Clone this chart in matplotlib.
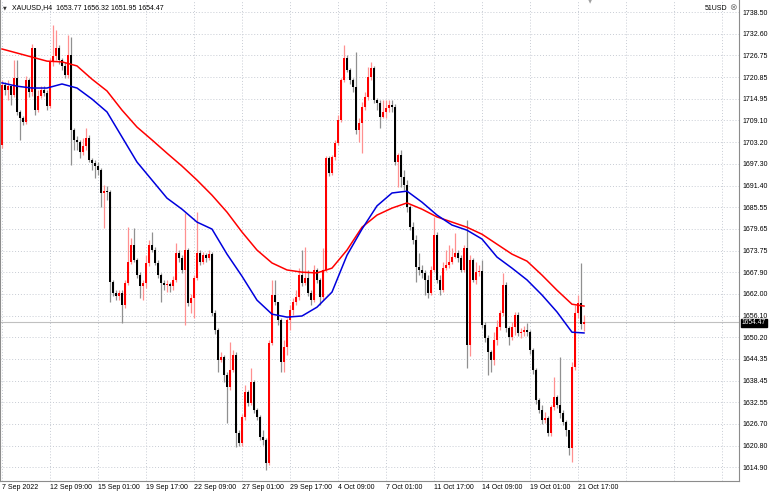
import numpy as np
import matplotlib.pyplot as plt
from matplotlib.transforms import blended_transform_factory

# XAUUSD H4 candles, 7 Sep 2022 .. 21 Oct 2022
first_open = 1702.4
closes = [
    1718.7, 1717.4, 1718.4, 1716.0, 1720.6, 1711.4, 1709.7, 1708.7, 1720.1, 1716.8,
    1728.8, 1711.9, 1715.7, 1717.4, 1716.5, 1713.0, 1725.0, 1726.6, 1728.8, 1725.5,
    1723.9, 1721.4, 1726.9, 1706.5, 1703.8, 1703.2, 1700.5, 1702.1, 1704.3, 1698.3,
    1697.5, 1696.7, 1695.6, 1689.4, 1689.9, 1689.7, 1665.2, 1662.2, 1661.4, 1662.2,
    1659.0, 1664.9, 1670.6, 1675.3, 1671.2, 1667.1, 1664.1, 1664.9, 1670.4, 1675.3,
    1673.9, 1670.4, 1667.1, 1664.9, 1664.4, 1664.7, 1664.1, 1665.8, 1673.1, 1671.7,
    1668.5, 1673.9, 1659.5, 1660.9, 1666.3, 1673.1, 1670.6, 1672.5, 1671.7, 1672.8,
    1656.8, 1652.2, 1644.0, 1644.8, 1640.0, 1636.7, 1641.3, 1645.4, 1624.2, 1621.5,
    1628.5, 1635.3, 1632.3, 1638.0, 1630.4, 1628.5, 1623.1, 1622.3, 1616.1, 1648.6,
    1661.7, 1659.8, 1654.9, 1643.5, 1647.6, 1654.9, 1657.6, 1659.8, 1661.1, 1667.1,
    1664.9, 1666.3, 1662.2, 1660.3, 1668.5, 1665.8, 1661.1, 1668.5, 1698.9, 1694.8,
    1699.2, 1703.0, 1709.2, 1720.1, 1726.0, 1722.8, 1720.1, 1718.2, 1706.5, 1708.4,
    1712.7, 1715.5, 1720.9, 1723.3, 1714.6, 1713.8, 1710.0, 1711.4, 1712.5, 1713.3,
    1712.7, 1697.8, 1699.7, 1693.7, 1691.6, 1685.6, 1680.1, 1676.6, 1669.3, 1668.5,
    1667.7, 1665.8, 1662.2, 1668.5, 1678.0, 1665.8, 1663.0, 1669.0, 1669.8, 1670.6,
    1672.0, 1673.1, 1671.7, 1668.5, 1674.4, 1648.1, 1671.2, 1665.8, 1667.9, 1668.2,
    1653.5, 1650.0, 1646.2, 1644.0, 1649.5, 1653.0, 1656.8, 1664.4, 1652.7, 1650.3,
    1653.0, 1656.3, 1651.4, 1651.6, 1652.2, 1651.6, 1646.7, 1641.3, 1633.2, 1630.4,
    1627.7, 1628.3, 1624.2, 1631.3, 1634.0, 1631.8, 1629.6, 1627.2, 1625.0, 1620.1,
    1642.1, 1656.8, 1659.5, 1653.77, 1654.47,
]
highs = [
    1720.1, 1719.5, 1720.1, 1718.7, 1725.5, 1725.5, 1711.9, 1710.3, 1721.2, 1720.6,
    1729.9, 1728.2, 1717.4, 1718.4, 1718.4, 1717.4, 1726.0, 1735.0, 1733.7, 1729.6,
    1726.0, 1725.0, 1732.3, 1731.8, 1707.0, 1704.9, 1703.8, 1704.3, 1707.0, 1705.1,
    1698.9, 1698.3, 1697.8, 1696.2, 1691.6, 1691.3, 1690.2, 1665.8, 1663.0, 1663.0,
    1663.0, 1665.8, 1680.1, 1677.2, 1679.9, 1671.7, 1667.9, 1665.8, 1672.5, 1676.6,
    1678.8, 1674.7, 1671.2, 1667.7, 1665.8, 1665.8, 1665.2, 1666.8, 1675.8, 1673.9,
    1672.5, 1683.9, 1674.4, 1661.9, 1667.1, 1684.2, 1673.9, 1673.4, 1673.1, 1673.9,
    1673.4, 1657.6, 1652.7, 1646.2, 1645.4, 1640.8, 1648.9, 1646.7, 1646.2, 1625.0,
    1629.4, 1637.2, 1635.9, 1641.9, 1638.6, 1631.0, 1629.1, 1625.0, 1622.8, 1649.5,
    1665.8, 1665.8, 1659.0, 1655.4, 1649.5, 1655.4, 1659.0, 1660.9, 1663.0, 1669.0,
    1673.9, 1674.7, 1668.5, 1663.0, 1669.8, 1669.0, 1666.3, 1674.4, 1699.5, 1699.4,
    1699.7, 1703.8, 1710.6, 1720.6, 1729.6, 1726.9, 1723.3, 1720.6, 1727.7, 1709.8,
    1714.1, 1716.8, 1723.6, 1725.0, 1723.9, 1715.2, 1714.6, 1714.6, 1714.6, 1714.6,
    1714.6, 1713.6, 1700.2, 1701.1, 1695.6, 1692.9, 1686.1, 1681.5, 1678.0, 1673.1,
    1669.8, 1668.5, 1667.1, 1669.6, 1682.9, 1678.8, 1667.1, 1670.6, 1673.9, 1675.3,
    1674.4, 1678.5, 1673.9, 1672.5, 1675.3, 1682.0, 1672.5, 1671.7, 1670.6, 1669.8,
    1671.2, 1654.3, 1650.8, 1646.7, 1651.6, 1654.9, 1657.6, 1667.7, 1665.2, 1653.3,
    1654.3, 1657.1, 1657.1, 1652.7, 1653.3, 1654.1, 1652.2, 1647.3, 1641.9, 1633.7,
    1631.8, 1629.9, 1628.8, 1631.8, 1639.4, 1634.5, 1644.8, 1630.4, 1627.7, 1625.0,
    1643.5, 1659.0, 1661.7, 1670.4, 1656.32,
]
lows = [
    1701.6, 1716.0, 1714.6, 1713.3, 1715.5, 1710.6, 1703.8, 1707.9, 1708.1, 1715.5,
    1715.7, 1710.6, 1711.4, 1715.2, 1715.7, 1711.9, 1712.5, 1723.9, 1725.5, 1724.4,
    1722.8, 1720.6, 1720.6, 1697.0, 1701.1, 1701.1, 1698.9, 1699.7, 1701.1, 1697.8,
    1695.6, 1693.5, 1694.3, 1685.6, 1679.9, 1687.5, 1659.8, 1661.4, 1660.3, 1660.3,
    1654.1, 1658.2, 1664.4, 1670.1, 1670.6, 1666.3, 1660.9, 1660.3, 1663.6, 1669.6,
    1673.4, 1669.8, 1666.3, 1659.8, 1663.0, 1662.5, 1662.5, 1663.0, 1665.2, 1670.6,
    1667.7, 1653.5, 1658.7, 1656.8, 1655.4, 1665.8, 1669.8, 1670.1, 1670.6, 1671.2,
    1656.0, 1651.1, 1640.8, 1643.5, 1638.0, 1626.9, 1635.9, 1640.8, 1620.4, 1620.7,
    1620.7, 1627.7, 1631.5, 1631.8, 1629.6, 1627.7, 1622.3, 1620.9, 1614.1, 1615.5,
    1648.1, 1659.0, 1653.5, 1640.8, 1640.8, 1645.4, 1652.2, 1656.3, 1659.0, 1660.3,
    1664.1, 1664.4, 1661.4, 1659.0, 1659.8, 1664.9, 1659.0, 1660.3, 1667.9, 1694.0,
    1694.3, 1698.3, 1702.4, 1708.7, 1719.5, 1722.2, 1719.0, 1716.8, 1705.4, 1703.2,
    1700.2, 1711.9, 1714.6, 1720.1, 1713.8, 1711.9, 1707.0, 1709.7, 1709.7, 1711.4,
    1711.4, 1697.0, 1691.0, 1691.0, 1690.2, 1684.2, 1679.3, 1675.5, 1665.2, 1667.1,
    1666.3, 1661.7, 1660.9, 1661.7, 1667.9, 1664.9, 1661.7, 1662.5, 1668.5, 1669.0,
    1670.1, 1671.7, 1670.6, 1667.9, 1667.9, 1641.9, 1645.1, 1665.2, 1664.7, 1666.8,
    1652.7, 1648.9, 1640.0, 1640.8, 1642.7, 1648.1, 1652.2, 1656.0, 1651.6, 1648.1,
    1649.5, 1650.8, 1650.5, 1650.0, 1650.5, 1650.5, 1645.7, 1640.2, 1632.1, 1629.6,
    1626.6, 1626.9, 1623.4, 1623.4, 1630.4, 1631.0, 1628.3, 1626.4, 1623.4, 1618.2,
    1616.3, 1641.3, 1655.4, 1652.5, 1651.95,
]

# moving averages, sampled every 5 bars
ma_bars = list(range(0, 191, 5)) + [194]
ma_slow = [
    1728.5, 1727.4, 1726.3, 1725.2, 1725.0, 1723.9, 1720.3, 1717.1, 1711.9, 1707.3,
    1703.8, 1700.2, 1696.7, 1692.9, 1688.8, 1684.2, 1678.8, 1673.9, 1670.4, 1668.5,
    1667.9, 1667.7, 1669.0, 1673.9, 1680.1, 1683.4, 1685.3, 1686.7, 1685.0, 1682.9,
    1681.5, 1680.1, 1678.2, 1675.5, 1672.8, 1670.9, 1667.1, 1663.0, 1659.2, 1658.7,
]
ma_fast = [
    1719.3, 1718.4, 1717.9, 1717.9, 1719.0, 1717.9, 1714.9, 1711.4, 1704.6, 1697.8,
    1692.9, 1688.0, 1685.0, 1681.5, 1679.6, 1672.8, 1666.8, 1660.3, 1656.5, 1655.7,
    1656.0, 1658.4, 1662.5, 1672.5, 1679.6, 1685.9, 1689.4, 1689.9, 1686.9, 1683.4,
    1680.7, 1679.3, 1676.9, 1672.0, 1669.0, 1665.8, 1661.7, 1657.1, 1651.6, 1651.4,
]

price_ticks = [1738.50, 1732.60, 1726.75, 1720.85, 1714.95, 1709.10, 1703.20,
               1697.30, 1691.40, 1685.55, 1679.65, 1673.75, 1667.90, 1662.00,
               1656.10, 1650.20, 1644.35, 1638.45, 1632.55, 1626.70, 1620.80,
               1614.90]
date_labels = ["7 Sep 2022", "12 Sep 09:00", "15 Sep 01:00", "19 Sep 17:00",
               "22 Sep 09:00", "27 Sep 01:00", "29 Sep 17:00", "4 Oct 09:00",
               "7 Oct 01:00", "11 Oct 17:00", "14 Oct 09:00", "19 Oct 01:00",
               "21 Oct 17:00"]
label_step = 16

plt.rcParams['font.family'] = ['Liberation Sans', 'DejaVu Sans']

W, H = 774, 494
fig = plt.figure(figsize=(W / 100, H / 100), dpi=100)
ax = fig.add_axes([0, 1 - 481 / H, 739 / W, 481 / H])

c = np.array(closes)
o = np.concatenate([[first_open], c[:-1]])
hi = np.maximum(np.array(highs), np.maximum(o, c))
lo = np.minimum(np.array(lows), np.minimum(o, c))
x = np.arange(len(c))
up = c >= o

wick_col = np.where(up, '#ff9090', '#909090')
ax.vlines(x, lo, hi, colors=wick_col, lw=0.9, zorder=2)
body_col = np.where(up, '#ff0000', '#000000')
ax.bar(x, np.maximum(np.abs(c - o), 0.3), bottom=np.minimum(o, c),
       width=0.62, color=body_col, lw=0, zorder=3)

ax.plot(ma_bars, ma_slow, color='#ff0000', lw=1.1, zorder=4)
ax.plot(ma_bars, ma_fast, color='#0000dd', lw=1.1, zorder=4)

last = c[-1]
ax.axhline(last, color='#c0c0c0', lw=0.8, zorder=1)

ax.set_xlim(-0.667, 245.67)
ax.set_ylim(1611.2, 1741.8)

ticks_x = list(range(0, 241, label_step))
ax.set_xticks(ticks_x)
ax.set_xticklabels(date_labels + [''] * (len(ticks_x) - len(date_labels)))
for lbl in ax.get_xticklabels():
    lbl.set_ha('left')
ax.set_yticks(price_ticks)
ax.set_yticklabels([f"{p:.2f}" for p in price_ticks])
ax.yaxis.tick_right()
ax.tick_params(axis='both', length=0, labelsize=5, colors='#000000')
ax.tick_params(axis='y', pad=2.5)
ax.tick_params(axis='x', pad=2)
ax.grid(True, color='#c8ccd4', linestyle=(0, (1, 2)), lw=0.7, zorder=0)
ax.set_axisbelow(True)

for side in ['right', 'bottom', 'left']:
    ax.spines[side].set_color('#8c8c8c')
    ax.spines[side].set_linewidth(0.8)
ax.spines['top'].set_visible(False)

# current price box on the price scale (sits just under the 1656.10 label)
trans = blended_transform_factory(ax.transAxes, ax.transData)
ax.text(1 + 3 / 739, last - 0.35, f"{last:.2f}", transform=trans, color='white',
        fontsize=4.8, va='center', ha='left', zorder=10, clip_on=False,
        bbox=dict(boxstyle='square,pad=0.1', fc='black', ec='black'))

# header
fig.text(5 / W, 1 - 8 / H, '\u25BC', fontsize=3.5, color='#333333',
         ha='center', va='center', family='DejaVu Sans')
fig.text(12 / W, 1 - 8 / H,
         f"XAUUSD,H4  {o[-1]:.2f} {hi[-1]:.2f} {lo[-1]:.2f} {c[-1]:.2f}",
         fontsize=5, ha='left', va='center')
fig.text(727 / W, 1 - 8 / H, '51USD', fontsize=5, ha='right', va='center')
fig.text(733 / W, 1 - 8 / H, '\u2297', fontsize=6.5, ha='center', va='center',
         color='#777777', family='DejaVu Sans')
fig.text(590 / W, 1 - 2 / H, '\u25BC', fontsize=4, color='#a0a0a0',
         ha='center', va='center', family='DejaVu Sans')

fig.savefig('out.png', dpi=100, facecolor='white')
